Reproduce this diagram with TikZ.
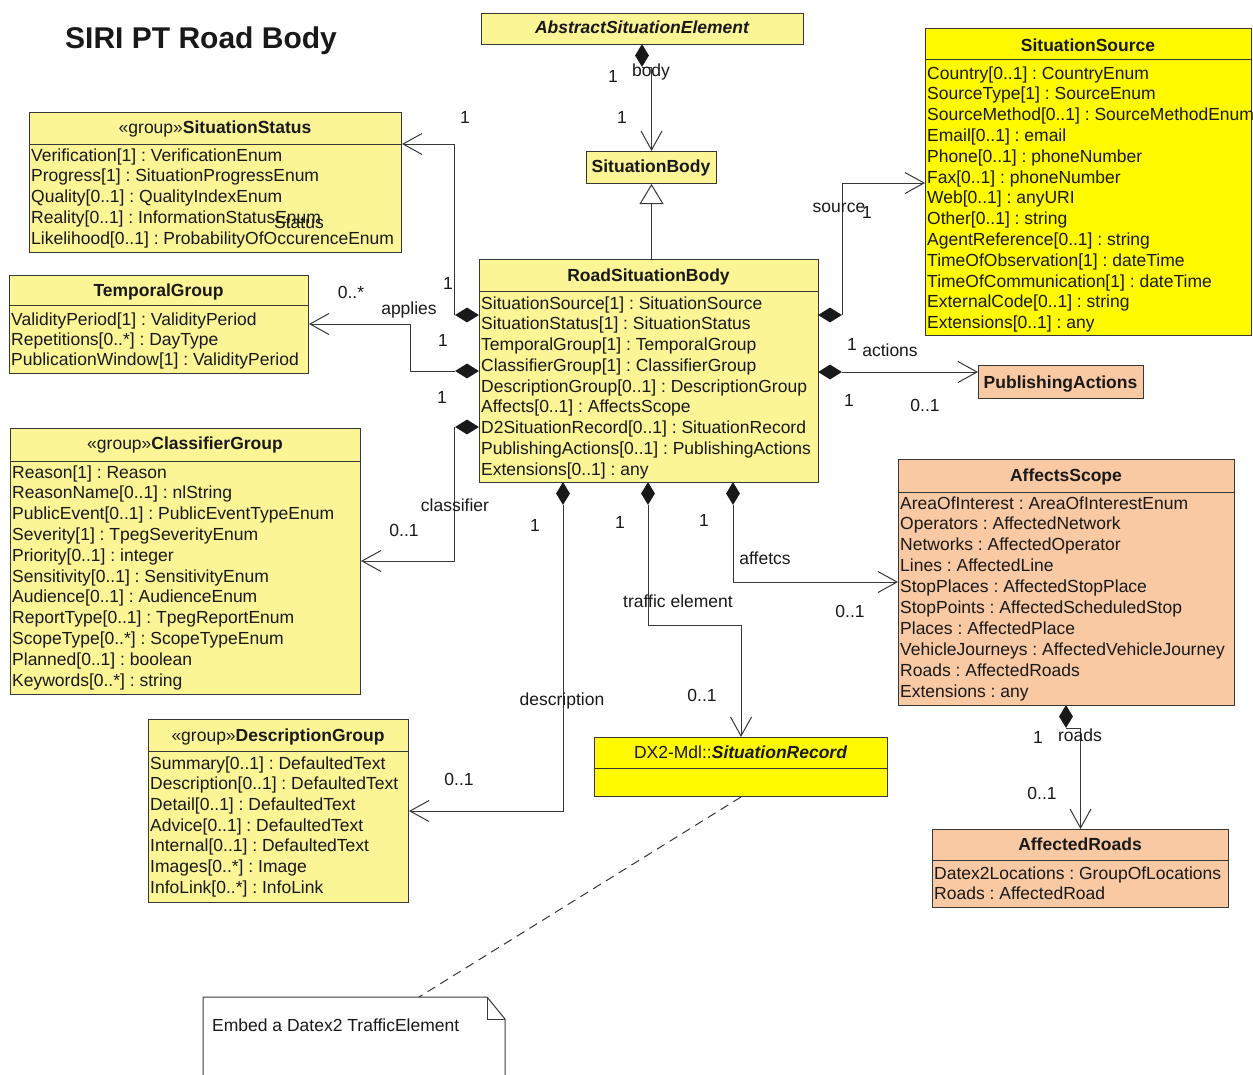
\documentclass[tikz,border=0pt]{standalone}
\usepackage{fontspec}
\setmainfont{Liberation Sans}
\usetikzlibrary{arrows.meta,shapes.geometric}

\definecolor{paleyel}{RGB}{251,245,150}
\definecolor{brightyel}{RGB}{255,250,0}
\definecolor{peach}{RGB}{249,201,163}
\definecolor{edgecol}{RGB}{55,55,55}
\definecolor{ink}{RGB}{25,25,25}

\tikzset{
  umlbox/.style={draw=edgecol, line width=1pt, rectangle, inner sep=0pt, anchor=north west},
  attrrow/.style={anchor=base west, inner sep=0pt, text=ink, font=\fontsize{17.5}{21}\selectfont},
  heading/.style={anchor=base, inner sep=0pt, text=ink, font=\fontsize{17.5}{21}\selectfont\bfseries},
  lbl/.style={anchor=base, inner sep=0pt, text=ink, font=\fontsize{17.5}{21}\selectfont},
  assoc/.style={draw=edgecol, line width=1pt, -{Straight Barb[length=19pt,width=21pt]}},
  dmdh/.style={diamond, fill=ink, draw=none, inner sep=0pt, minimum width=24pt, minimum height=15pt},
  dmdv/.style={diamond, fill=ink, draw=none, inner sep=0pt, minimum width=14pt, minimum height=23pt},
}

% attribute list of a class: x, first baseline, line step, rows
\newcommand\attrrows[4]{%
  \foreach \attr [count=\k from 0] in {#4}
    \node[attrrow] at (#1, {#2+\k*#3}) {\attr};}

\begin{document}
\frenchspacing
\begin{tikzpicture}[x=1pt, y=-1pt]
\useasboundingbox (0,0) rectangle (1253,1074);
\fill[white] (0,0) rectangle (1253,1074);

% title
\node[anchor=base west, inner sep=0pt, text=ink, font=\fontsize{30}{36}\selectfont\bfseries] (title) at (65,48.5) {SIRI PT Road Body};

% ---------- classes ----------
\node[umlbox, fill=paleyel, minimum width=322pt, minimum height=31pt] (ase) at (481,13) {};
\node[heading, font=\fontsize{17.5}{21}\selectfont\bfseries\itshape] at (642,33) {AbstractSituationElement};

\node[umlbox, fill=paleyel, minimum width=130pt, minimum height=32pt] (sbody) at (586,151) {};
\node[heading] at (651,172) {SituationBody};

\node[umlbox, fill=paleyel, minimum width=372pt, minimum height=140pt] (sstatus) at (29,112) {};
\draw[edgecol, line width=1pt] (sstatus.west |- 0,144) -- (sstatus.east |- 0,144);
\node[heading] at (215,133) {\mdseries«group»\bfseries SituationStatus};
\attrrows{31}{161}{20.8}{Verification[1] : VerificationEnum, Progress[1] : SituationProgressEnum, Quality[0..1] : QualityIndexEnum, Reality[0..1] : InformationStatusEnum, Likelihood[0..1] : ProbabilityOfOccurenceEnum}

\node[umlbox, fill=brightyel, minimum width=326pt, minimum height=307pt] (ssource) at (925,28) {};
\draw[edgecol, line width=1pt] (ssource.west |- 0,59) -- (ssource.east |- 0,59);
\node[heading] at (1088,51) {SituationSource};
\attrrows{927}{79}{20.8}{Country[0..1] : CountryEnum, SourceType[1] : SourceEnum, SourceMethod[0..1] : SourceMethodEnum, Email[0..1] : email, Phone[0..1] : phoneNumber, Fax[0..1] : phoneNumber, Web[0..1] : anyURI, Other[0..1] : string, AgentReference[0..1] : string, TimeOfObservation[1] : dateTime, TimeOfCommunication[1] : dateTime, ExternalCode[0..1] : string, Extensions[0..1] : any}

\node[umlbox, fill=paleyel, minimum width=299pt, minimum height=98pt] (temporal) at (9,275) {};
\draw[edgecol, line width=1pt] (temporal.west |- 0,305) -- (temporal.east |- 0,305);
\node[heading] at (158.5,296) {TemporalGroup};
\attrrows{11}{325}{20}{ValidityPeriod[1] : ValidityPeriod, Repetitions[0..*] : DayType, PublicationWindow[1] : ValidityPeriod}

\node[umlbox, fill=paleyel, minimum width=339pt, minimum height=223pt] (rsb) at (479,259) {};
\draw[edgecol, line width=1pt] (rsb.west |- 0,291) -- (rsb.east |- 0,291);
\node[heading] at (648.5,281) {RoadSituationBody};
\attrrows{481}{309}{20.75}{SituationSource[1] : SituationSource, SituationStatus[1] : SituationStatus, TemporalGroup[1] : TemporalGroup, ClassifierGroup[1] : ClassifierGroup, DescriptionGroup[0..1] : DescriptionGroup, Affects[0..1] : AffectsScope, D2SituationRecord[0..1] : SituationRecord, PublishingActions[0..1] : PublishingActions, Extensions[0..1] : any}

\node[umlbox, fill=paleyel, minimum width=350pt, minimum height=266pt] (classifier) at (10,428) {};
\draw[edgecol, line width=1pt] (classifier.west |- 0,461) -- (classifier.east |- 0,461);
\node[heading] at (185,449) {\mdseries«group»\bfseries ClassifierGroup};
\attrrows{12}{478}{20.8}{Reason[1] : Reason, ReasonName[0..1] : nlString, PublicEvent[0..1] : PublicEventTypeEnum, Severity[1] : TpegSeverityEnum, Priority[0..1] : integer, Sensitivity[0..1] : SensitivityEnum, Audience[0..1] : AudienceEnum, ReportType[0..1] : TpegReportEnum, ScopeType[0..*] : ScopeTypeEnum, Planned[0..1] : boolean, Keywords[0..*] : string}

\node[umlbox, fill=paleyel, minimum width=260pt, minimum height=183pt] (description) at (148,719) {};
\draw[edgecol, line width=1pt] (description.west |- 0,751) -- (description.east |- 0,751);
\node[heading] at (278,741) {\mdseries«group»\bfseries DescriptionGroup};
\attrrows{150}{769}{20.67}{Summary[0..1] : DefaultedText, Description[0..1] : DefaultedText, Detail[0..1] : DefaultedText, Advice[0..1] : DefaultedText, Internal[0..1] : DefaultedText, Images[0..*] : Image, InfoLink[0..*] : InfoLink}

\node[umlbox, fill=brightyel, minimum width=293pt, minimum height=59pt] (record) at (594,737) {};
\draw[edgecol, line width=1pt] (record.west |- 0,768) -- (record.east |- 0,768);
\node[heading] at (740.5,758) {\mdseries DX2-Mdl::\bfseries\itshape SituationRecord};

\node[umlbox, fill=peach, minimum width=165pt, minimum height=33pt] (actions) at (978,365) {};
\node[heading] at (1060.5,388) {PublishingActions};

\node[umlbox, fill=peach, minimum width=336pt, minimum height=246pt] (affects) at (898,459) {};
\draw[edgecol, line width=1pt] (affects.west |- 0,492) -- (affects.east |- 0,492);
\node[heading] at (1066,481) {AffectsScope};
\attrrows{900}{509}{20.9}{AreaOfInterest : AreaOfInterestEnum, Operators : AffectedNetwork, Networks : AffectedOperator, Lines : AffectedLine, StopPlaces : AffectedStopPlace, StopPoints : AffectedScheduledStop, Places : AffectedPlace, VehicleJourneys : AffectedVehicleJourney, Roads : AffectedRoads, Extensions : any}

\node[umlbox, fill=peach, minimum width=296pt, minimum height=78pt] (roads) at (932,829) {};
\draw[edgecol, line width=1pt] (roads.west |- 0,860) -- (roads.east |- 0,860);
\node[heading] at (1080,850) {AffectedRoads};
\attrrows{934}{879}{20}{Datex2Locations : GroupOfLocations, Roads : AffectedRoad}

% note
\draw[edgecol, line width=1pt, fill=white] (203,1076) -- (203,997) -- (487,997) -- (505,1019) -- (505,1076);
\draw[edgecol, line width=1pt] (487,997) -- (487,1019) -- (505,1019);
\coordinate (notetop) at (419,997);
\node[attrrow] (notetext) at (212,1031) {Embed a Datex2 TrafficElement};

% ---------- composition diamonds ----------
\node[dmdv] (dbody) at (642,55.5) {};
\node[dmdh] (dstat) at (467,315) {};
\node[dmdh] (dtemp) at (467,371) {};
\node[dmdh] (dclass) at (467,427) {};
\node[dmdv] (ddesc) at (563,493.5) {};
\node[dmdv] (dtraf) at (648,493.5) {};
\node[dmdv] (daff) at (733,493.5) {};
\node[dmdh] (dsrc) at (830,315) {};
\node[dmdh] (dact) at (830,372) {};
\node[dmdv] (droads) at (1066,716.5) {};

% ---------- connectors ----------
\draw[assoc] (dbody.south) -| (sbody.north);
\draw[draw=edgecol, line width=1pt, -{Triangle[open, length=20pt, width=24pt, fill=white]}] (sbody.south |- rsb.north) -- (sbody.south);
\draw[assoc] (dstat.west) |- (sstatus.east |- 0,144);
\draw[assoc] (dtemp.west) -- (410,371) |- (temporal.east |- 0,324);
\draw[assoc] (dclass.west) |- (classifier.east |- 0,561);
\draw[assoc] (ddesc.south) |- (description.east |- 0,811);
\draw[assoc] (dtraf.south) -- (dtraf.south |- 0,625) -| (record.north);
\draw[assoc] (daff.south) |- (affects.west |- 0,582);
\draw[assoc] (dsrc.east) |- (ssource.west |- 0,183);
\draw[assoc] (dact.east) -- (actions.west |- dact.east);
\draw[assoc] (droads.south) -| (roads.north);
\draw[edgecol, line width=1pt, dash pattern=on 9pt off 6pt] (record.south) -- (notetop);

% ---------- association labels ----------
\node[lbl] at (613,82) {1};
\node[lbl] at (651,76) {body};
\node[lbl] at (622,123) {1};
\node[lbl] at (465,123) {1};
\node[lbl] at (299,228) {Status};
\node[lbl] at (448,289) {1};
\node[lbl] at (409,314) {applies};
\node[lbl] at (351,298) {0..*};
\node[lbl] at (443,346) {1};
\node[lbl] at (442,403) {1};
\node[lbl] at (455,511) {classifier};
\node[lbl] at (404,536) {0..1};
\node[lbl] at (535,531) {1};
\node[lbl] at (620,528) {1};
\node[lbl] at (704,526) {1};
\node[lbl] at (562,705) {description};
\node[lbl] at (459,785) {0..1};
\node[lbl] at (678,607) {traffic element};
\node[lbl] at (702,701) {0..1};
\node[lbl] at (765,564) {affetcs};
\node[lbl] at (850,617) {0..1};
\node[lbl] at (839,212) {source};
\node[lbl] at (867,218) {1};
\node[lbl] at (852,350) {1};
\node[lbl] at (890,356) {actions};
\node[lbl] at (849,406) {1};
\node[lbl] at (925,411) {0..1};
\node[lbl] at (1038,743) {1};
\node[lbl] at (1080,741) {roads};
\node[lbl] at (1042,799) {0..1};
\end{tikzpicture}
\end{document}
